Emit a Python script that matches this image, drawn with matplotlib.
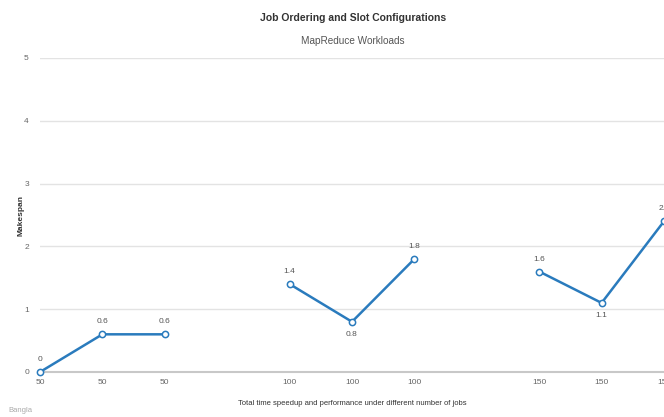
import matplotlib
matplotlib.use("Agg")
import matplotlib.pyplot as plt

plt.rcParams['font.family'] = ['Liberation Sans', 'DejaVu Sans']

# Job counts per run (blank entries separate the groups)
categories = ['50', '50', '50', '', '100', '100', '100', '', '150', '150', '150']
makespan = [0, 0.6, 0.6, None, 1.4, 0.8, 1.8, None, 1.6, 1.1, 2.4]
label_below = [False, False, False, False, False, True, False, False, False, True, False]
y_ticks = [0, 1, 2, 3, 4, 5]

fig = plt.figure(figsize=(6.64, 4.17), dpi=100)
ax = fig.add_axes([40 / 664, 45 / 417, 624 / 664, 314 / 417])

x = list(range(len(categories)))
line_color = '#2a7bbd'

# draw each contiguous run of values as its own segment
seg_x, seg_y = [], []
for xi, v in zip(x + [None], makespan + [None]):
    if v is None:
        if seg_x:
            ax.plot(seg_x, seg_y, color=line_color, lw=1.8, marker='o', ms=4.5,
                    mfc='white', mec=line_color, mew=1.1, zorder=3, clip_on=False)
        seg_x, seg_y = [], []
    else:
        seg_x.append(xi)
        seg_y.append(v)

for xi, v, below in zip(x, makespan, label_below):
    if v is None:
        continue
    txt = f"{v:g}"
    dy = -9 if below else 9
    ax.annotate(txt, (xi, v), xytext=(0, dy), textcoords='offset points',
                ha='center', va='center', fontsize=6, color='#555555')

ax.set_xlim(0, len(categories) - 1)
ax.set_ylim(0, 5)
ax.set_xticks(x)
ax.set_xticklabels(categories, fontsize=6, color='#666666')
ax.set_yticks(y_ticks)
ax.set_yticklabels([str(t) for t in y_ticks], fontsize=6, color='#666666')
ax.tick_params(axis='x', length=0, pad=5)
ax.tick_params(axis='y', length=0, pad=8)

ax.grid(axis='y', color='#e3e3e3', lw=1)
ax.set_axisbelow(True)
for side in ['top', 'right', 'left']:
    ax.spines[side].set_visible(False)
ax.spines['bottom'].set_color('#c8c8c8')
ax.spines['bottom'].set_linewidth(1.5)

ax.set_ylabel('Makespan', fontsize=6, fontweight='bold', color='#333333', labelpad=0)
ax.set_xlabel('Total time speedup and performance under different number of jobs',
              fontsize=5.5, color='#333333', labelpad=10)

fig.text(353 / 664, 1 - 18 / 417, 'Job Ordering and Slot Configurations',
         ha='center', va='center', fontsize=7.5, fontweight='bold', color='#333333')
fig.text(353 / 664, 1 - 41 / 417, 'MapReduce Workloads',
         ha='center', va='center', fontsize=7.2, color='#555555')
fig.text(8 / 664, 1 - 410 / 417, 'Bangla', ha='left', va='center',
         fontsize=5.5, color='#aaaaaa')

fig.savefig('out.png', dpi=100)
